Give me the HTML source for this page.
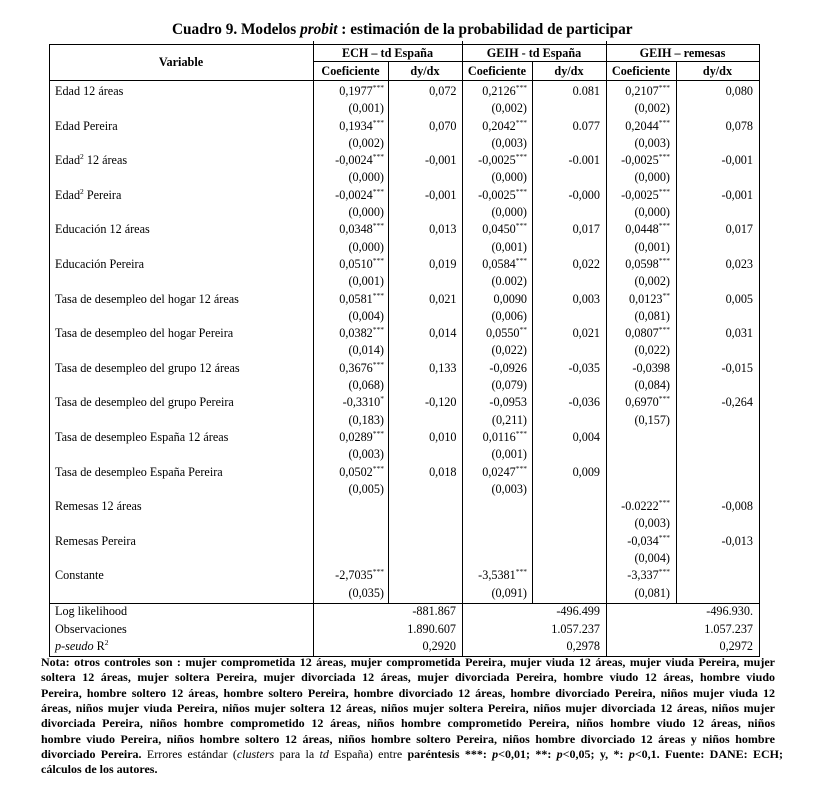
<!DOCTYPE html>
<html>
<head>
<meta charset="utf-8">
<style>
  html,body{margin:0;padding:0;background:#fff;}
  body{width:817px;height:807px;position:relative;overflow:hidden;
       font-family:"Liberation Serif","DejaVu Serif",serif;color:#000;font-size:12.2px;}
  .a{position:absolute;}
  .hl{position:absolute;height:1px;background:#000;}
  .vl{position:absolute;width:1px;background:#000;}
  .col{position:absolute;top:83px;box-sizing:border-box;line-height:17.3px;white-space:nowrap;}
  .col div{height:17.3px;}
  .r{text-align:right;}
  .s{font-size:7.5px;vertical-align:5px;line-height:0;}
  .h{font-weight:bold;text-align:center;position:absolute;line-height:18px;white-space:nowrap;}
  .foot{position:absolute;top:603px;box-sizing:border-box;line-height:17.5px;white-space:nowrap;}
  .note{position:absolute;left:41px;width:734px;font-weight:bold;font-size:12px;line-height:15.3px;
        text-align:justify;text-align-last:justify;white-space:nowrap;}
  .note span.n{font-weight:normal;}
</style>
</head>
<body>

<div class="a" style="left:172px;top:21px;font-size:15.3px;font-weight:bold;line-height:18px;white-space:nowrap;">Cuadro 9. Modelos <i>probit</i> : estimación de la probabilidad de participar</div>

<!-- horizontal lines -->
<div class="hl" style="left:49px;width:711px;top:44px;"></div>
<div class="hl" style="left:313px;width:447px;top:61px;"></div>
<div class="hl" style="left:49px;width:711px;top:80px;"></div>
<div class="hl" style="left:49px;width:711px;top:603px;"></div>
<div class="hl" style="left:49px;width:711px;top:656px;"></div>

<!-- vertical lines -->
<div class="vl" style="left:49px;top:44px;height:613px;"></div>
<div class="vl" style="left:759px;top:44px;height:613px;"></div>
<div class="vl" style="left:313px;top:41px;height:616px;"></div>
<div class="vl" style="left:462px;top:41px;height:616px;"></div>
<div class="vl" style="left:606px;top:41px;height:616px;"></div>
<div class="vl" style="left:388px;top:61px;height:542px;"></div>
<div class="vl" style="left:532px;top:61px;height:542px;"></div>
<div class="vl" style="left:676px;top:61px;height:542px;"></div>

<!-- header -->
<div class="h" style="left:49px;width:264px;top:53px;">Variable</div>
<div class="h" style="left:313px;width:149px;top:44px;">ECH – td España</div>
<div class="h" style="left:462px;width:144px;top:44px;">GEIH - td España</div>
<div class="h" style="left:606px;width:153px;top:44px;">GEIH – remesas</div>
<div class="h" style="left:313px;width:75px;top:62px;">Coeficiente</div>
<div class="h" style="left:388px;width:74px;top:62px;">dy/dx</div>
<div class="h" style="left:462px;width:70px;top:62px;">Coeficiente</div>
<div class="h" style="left:532px;width:74px;top:62px;">dy/dx</div>
<div class="h" style="left:606px;width:70px;top:62px;">Coeficiente</div>
<div class="h" style="left:676px;width:83px;top:62px;">dy/dx</div>

<!-- labels -->
<div class="col" style="left:49px;width:264px;padding-left:6px;">
<div>Edad 12 áreas</div><div></div>
<div>Edad Pereira</div><div></div>
<div>Edad<span class="s">2</span> 12 áreas</div><div></div>
<div>Edad<span class="s">2</span> Pereira</div><div></div>
<div>Educación 12 áreas</div><div></div>
<div>Educación Pereira</div><div></div>
<div>Tasa de desempleo del hogar 12 áreas</div><div></div>
<div>Tasa de desempleo del hogar Pereira</div><div></div>
<div>Tasa de desempleo del grupo 12 áreas</div><div></div>
<div>Tasa de desempleo del grupo Pereira</div><div></div>
<div>Tasa de desempleo España 12 áreas</div><div></div>
<div>Tasa de desempleo España Pereira</div><div></div>
<div>Remesas 12 áreas</div><div></div>
<div>Remesas Pereira</div><div></div>
<div>Constante</div><div></div>
</div>

<!-- ECH coef -->
<div class="col r" style="left:313px;width:75px;padding-right:4px;">
<div>0,1977<span class="s">***</span></div><div>(0,001)</div>
<div>0,1934<span class="s">***</span></div><div>(0,002)</div>
<div>-0,0024<span class="s">***</span></div><div>(0,000)</div>
<div>-0,0024<span class="s">***</span></div><div>(0,000)</div>
<div>0,0348<span class="s">***</span></div><div>(0,000)</div>
<div>0,0510<span class="s">***</span></div><div>(0,001)</div>
<div>0,0581<span class="s">***</span></div><div>(0,004)</div>
<div>0,0382<span class="s">***</span></div><div>(0,014)</div>
<div>0,3676<span class="s">***</span></div><div>(0,068)</div>
<div>-0,3310<span class="s">*</span></div><div>(0,183)</div>
<div>0,0289<span class="s">***</span></div><div>(0,003)</div>
<div>0,0502<span class="s">***</span></div><div>(0,005)</div>
<div></div><div></div>
<div></div><div></div>
<div>-2,7035<span class="s">***</span></div><div>(0,035)</div>
</div>

<!-- ECH dy -->
<div class="col r" style="left:388px;width:74px;padding-right:5.5px;">
<div>0,072</div><div></div>
<div>0,070</div><div></div>
<div>-0,001</div><div></div>
<div>-0,001</div><div></div>
<div>0,013</div><div></div>
<div>0,019</div><div></div>
<div>0,021</div><div></div>
<div>0,014</div><div></div>
<div>0,133</div><div></div>
<div>-0,120</div><div></div>
<div>0,010</div><div></div>
<div>0,018</div><div></div>
</div>

<!-- GEIH td coef -->
<div class="col r" style="left:462px;width:70px;padding-right:5px;">
<div>0,2126<span class="s">***</span></div><div>(0,002)</div>
<div>0,2042<span class="s">***</span></div><div>(0,003)</div>
<div>-0,0025<span class="s">***</span></div><div>(0,000)</div>
<div>-0,0025<span class="s">***</span></div><div>(0,000)</div>
<div>0,0450<span class="s">***</span></div><div>(0,001)</div>
<div>0,0584<span class="s">***</span></div><div>(0.002)</div>
<div>0,0090</div><div>(0,006)</div>
<div>0,0550<span class="s">**</span></div><div>(0,022)</div>
<div>-0,0926</div><div>(0,079)</div>
<div>-0,0953</div><div>(0,211)</div>
<div>0,0116<span class="s">***</span></div><div>(0,001)</div>
<div>0,0247<span class="s">***</span></div><div>(0,003)</div>
<div></div><div></div>
<div></div><div></div>
<div>-3,5381<span class="s">***</span></div><div>(0,091)</div>
</div>

<!-- GEIH td dy -->
<div class="col r" style="left:532px;width:74px;padding-right:6px;">
<div>0.081</div><div></div>
<div>0.077</div><div></div>
<div>-0.001</div><div></div>
<div>-0,000</div><div></div>
<div>0,017</div><div></div>
<div>0,022</div><div></div>
<div>0,003</div><div></div>
<div>0,021</div><div></div>
<div>-0,035</div><div></div>
<div>-0,036</div><div></div>
<div>0,004</div><div></div>
<div>0,009</div><div></div>
</div>

<!-- GEIH remesas coef -->
<div class="col r" style="left:606px;width:70px;padding-right:6px;">
<div>0,2107<span class="s">***</span></div><div>(0,002)</div>
<div>0,2044<span class="s">***</span></div><div>(0,003)</div>
<div>-0,0025<span class="s">***</span></div><div>(0,000)</div>
<div>-0,0025<span class="s">***</span></div><div>(0,000)</div>
<div>0,0448<span class="s">***</span></div><div>(0,001)</div>
<div>0,0598<span class="s">***</span></div><div>(0,002)</div>
<div>0,0123<span class="s">**</span></div><div>(0,081)</div>
<div>0,0807<span class="s">***</span></div><div>(0,022)</div>
<div>-0,0398</div><div>(0,084)</div>
<div>0,6970<span class="s">***</span></div><div>(0,157)</div>
<div></div><div></div>
<div></div><div></div>
<div>-0.0222<span class="s">***</span></div><div>(0,003)</div>
<div>-0,034<span class="s">***</span></div><div>(0,004)</div>
<div>-3,337<span class="s">***</span></div><div>(0,081)</div>
</div>

<!-- GEIH remesas dy -->
<div class="col r" style="left:676px;width:83px;padding-right:6px;">
<div>0,080</div><div></div>
<div>0,078</div><div></div>
<div>-0,001</div><div></div>
<div>-0,001</div><div></div>
<div>0,017</div><div></div>
<div>0,023</div><div></div>
<div>0,005</div><div></div>
<div>0,031</div><div></div>
<div>-0,015</div><div></div>
<div>-0,264</div><div></div>
<div></div><div></div>
<div></div><div></div>
<div>-0,008</div><div></div>
<div>-0,013</div><div></div>
</div>

<!-- footer -->
<div class="foot" style="left:49px;width:264px;padding-left:6px;">
<div>Log likelihood</div>
<div>Observaciones</div>
<div><i>p-seudo</i> R<span class="s">2</span></div>
</div>
<div class="foot r" style="left:313px;width:149px;padding-right:6px;">
<div>-881.867</div><div>1.890.607</div><div>0,2920</div>
</div>
<div class="foot r" style="left:462px;width:144px;padding-right:6px;">
<div>-496.499</div><div>1.057.237</div><div>0,2978</div>
</div>
<div class="foot r" style="left:606px;width:153px;padding-right:6px;">
<div>-496.930.</div><div>1.057.237</div><div>0,2972</div>
</div>

<!-- notes -->
<div class="note" style="top:655px;">Nota: otros controles son : mujer comprometida 12 áreas, mujer comprometida Pereira, mujer viuda 12 áreas, mujer viuda Pereira, mujer</div>
<div class="note" style="top:670.3px;">soltera 12 áreas, mujer soltera Pereira, mujer divorciada 12 áreas, mujer divorciada Pereira, hombre viudo 12 áreas, hombre viudo</div>
<div class="note" style="top:685.6px;">Pereira, hombre soltero 12 áreas, hombre soltero Pereira, hombre divorciado 12 áreas, hombre divorciado Pereira, niños mujer viuda 12</div>
<div class="note" style="top:700.9px;">áreas, niños mujer viuda Pereira, niños mujer soltera 12 áreas, niños mujer soltera Pereira, niños mujer divorciada 12 áreas, niños mujer</div>
<div class="note" style="top:716.2px;">divorciada Pereira, niños hombre comprometido 12 áreas, niños hombre comprometido Pereira, niños hombre viudo 12 áreas, niños</div>
<div class="note" style="top:731.5px;">hombre viudo Pereira, niños hombre soltero 12 áreas, niños hombre soltero Pereira, niños hombre divorciado 12 áreas y niños hombre</div>
<div class="note" style="top:746.8px;width:742px;">divorciado Pereira. <span class="n">Errores estándar (<i>clusters</i> para la <i>td</i> España) entre</span> paréntesis ***: <i>p</i>&lt;0,01; **: <i>p</i>&lt;0,05; y, *: <i>p</i>&lt;0,1. Fuente: DANE: ECH;</div>
<div class="note" style="top:762.1px;text-align:left;text-align-last:left;">cálculos de los autores.</div>

</body>
</html>
